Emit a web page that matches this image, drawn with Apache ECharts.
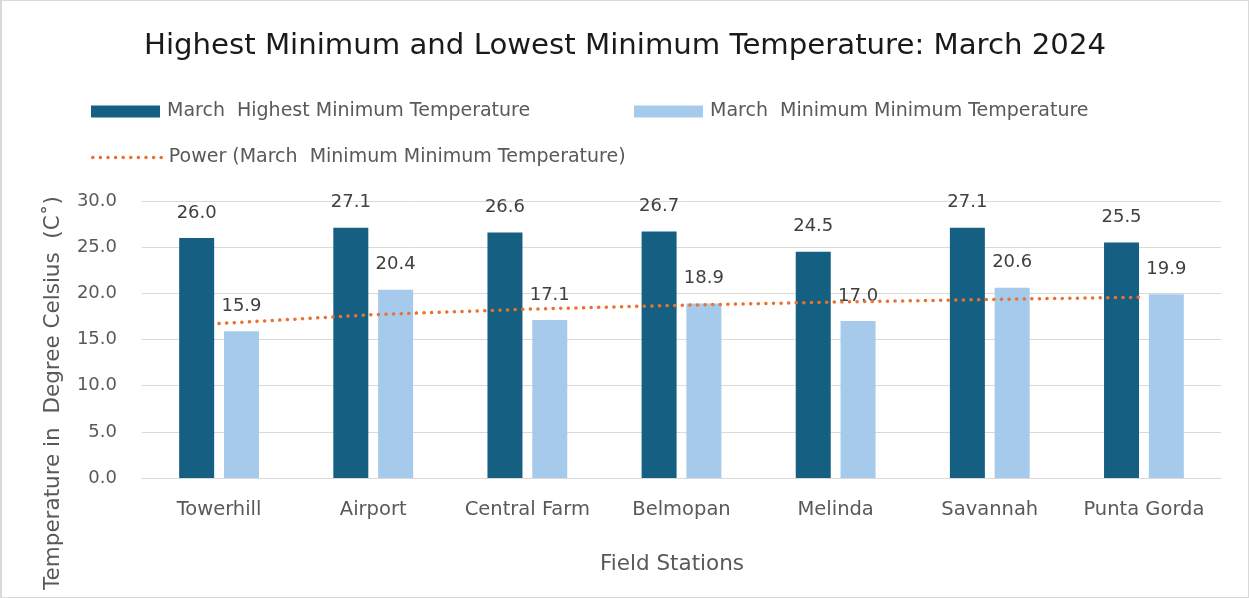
<!DOCTYPE html>
<html>
<head>
<meta charset="utf-8">
<script src="https://cdn.jsdelivr.net/npm/echarts@6/dist/echarts.min.js"></script>
<style>
  html, body { margin: 0; padding: 0; background: #fff; }
  #chart { width: 1249px; height: 598px; box-sizing: border-box; border: 1px solid #d9d9d9; border-left-width: 2px; }
</style>
</head>
<body>
<div id="chart"></div>
<script>
// Field stations and March 2024 minimum-temperature readings (°C)
const stations = ['Towerhill', 'Airport', 'Central Farm', 'Belmopan', 'Melinda', 'Savannah', 'Punta Gorda'];
const highestMin = [26.0, 27.1, 26.6, 26.7, 24.5, 27.1, 25.5];
const lowestMin = [15.9, 20.4, 17.1, 18.9, 17.0, 20.6, 19.9];
const yTicks = { min: 0, max: 30, interval: 5 };

const nameHigh = 'March  Highest Minimum Temperature';
const nameLow = 'March  Minimum Minimum Temperature';
const nameTrend = 'Power (March  Minimum Minimum Temperature)';

// Power trendline y = a * x^b, least-squares fit in log-log space over x = 1..n
function powerTrend(values) {
  const n = values.length;
  const lx = values.map((_, i) => Math.log(i + 1));
  const ly = values.map(v => Math.log(v));
  const mx = lx.reduce((s, v) => s + v, 0) / n;
  const my = ly.reduce((s, v) => s + v, 0) / n;
  let sxy = 0, sxx = 0;
  for (let i = 0; i < n; i++) {
    sxy += (lx[i] - mx) * (ly[i] - my);
    sxx += (lx[i] - mx) * (lx[i] - mx);
  }
  const b = sxy / sxx;
  const a = Math.exp(my - b * mx);
  return values.map((_, i) => a * Math.pow(i + 1, b));
}
const trend = powerTrend(lowestMin);

const FONT = '"DejaVu Sans", "Open Sans", sans-serif';
const TXT = '#595959';

const chart = echarts.init(document.getElementById('chart'), null, { renderer: 'canvas' });
chart.setOption({
  animation: false,
  textStyle: { fontFamily: FONT },
  title: {
    text: 'Highest Minimum and Lowest Minimum Temperature: March 2024',
    left: 'center',
    top: 26,
    textStyle: { fontFamily: FONT, fontSize: 29.2, fontWeight: 'normal', color: '#1a1a1a' }
  },
  legend: [
    {
      data: [nameHigh], left: 84, top: 96, itemWidth: 69, itemHeight: 12, itemGap: 0,
      icon: 'rect',
      textStyle: { fontSize: 19, color: TXT, fontFamily: FONT, padding: [0, 0, 0, 2] }
    },
    {
      data: [nameLow], left: 627, top: 96, itemWidth: 69, itemHeight: 12, itemGap: 0,
      icon: 'rect',
      textStyle: { fontSize: 19, color: TXT, fontFamily: FONT, padding: [0, 0, 0, 2] }
    },
    {
      data: [nameTrend], left: 84, top: 142, itemWidth: 69, itemHeight: 12, itemGap: 0,
      itemStyle: { opacity: 0 },
      lineStyle: { width: 3.5, type: [0.1, 7.5], cap: 'round', color: '#E97132' },
      textStyle: { fontSize: 19, color: TXT, fontFamily: FONT, padding: [0, 0, 0, 2] }
    }
  ],
  grid: { left: 140, right: 27, top: 200, bottom: 119, containLabel: false },
  xAxis: {
    type: 'category',
    data: stations,
    axisLine: { show: true, lineStyle: { color: '#d9d9d9', width: 1 } },
    axisTick: { show: false },
    axisLabel: { color: TXT, fontSize: 19.5, margin: 22, fontFamily: FONT, interval: 0, hideOverlap: false }
  },
  yAxis: {
    type: 'value',
    min: yTicks.min, max: yTicks.max, interval: yTicks.interval,
    axisLine: { show: false },
    axisTick: { show: false },
    splitLine: { lineStyle: { color: '#d9d9d9', width: 1 } },
    axisLabel: {
      color: TXT, fontSize: 18, margin: 25, fontFamily: FONT,
      formatter: v => v.toFixed(1)
    }
  },
  graphic: [
    {
      type: 'text',
      x: 670, y: 563,
      style: {
        text: 'Field Stations', font: '21.5px ' + FONT, fill: TXT,
        align: 'center', verticalAlign: 'middle'
      }
    },
    {
      type: 'text',
      x: 51, y: 392,
      rotation: Math.PI / 2,
      style: {
        text: 'Temperature in  Degree Celsius  (C˚)',
        font: '21.5px ' + FONT, fill: TXT,
        align: 'center', verticalAlign: 'middle'
      }
    }
  ],
  series: [
    {
      name: nameHigh,
      type: 'bar',
      data: highestMin,
      barWidth: 35,
      barGap: '28%',
      itemStyle: { color: '#156082' },
      label: {
        show: true, position: 'top', distance: 16,
        color: '#404040', fontSize: 18, fontFamily: FONT,
        formatter: p => p.value.toFixed(1)
      }
    },
    {
      name: nameLow,
      type: 'bar',
      data: lowestMin,
      barWidth: 35,
      itemStyle: { color: '#A6CAEC' },
      label: {
        show: true, position: 'top', distance: 16,
        color: '#404040', fontSize: 18, fontFamily: FONT,
        formatter: p => p.value.toFixed(1)
      }
    },
    {
      name: nameTrend,
      type: 'line',
      data: trend,
      symbol: 'none',
      z: 5,
      lineStyle: { color: '#E97132', width: 3.5, type: [0.1, 7.5], cap: 'round' },
      itemStyle: { color: '#E97132' },
      tooltip: { show: false }
    }
  ]
});
</script>
</body>
</html>
